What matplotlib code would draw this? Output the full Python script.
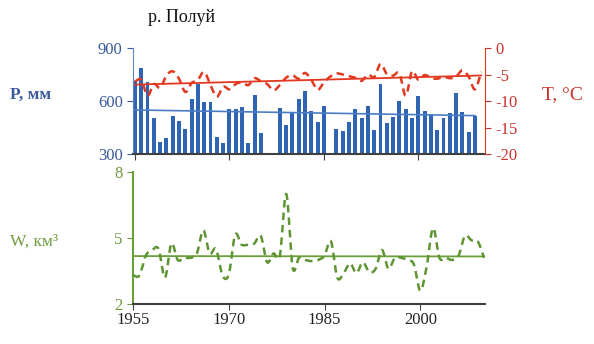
import numpy as np
import matplotlib
matplotlib.use("Agg")
from matplotlib import pyplot as plt

plt.rcParams['font.family'] = ['Liberation Serif', 'DejaVu Serif']

years = np.arange(1955, 2011)

# annual precipitation, mm (no data for 1976, 1977, 1986, 2010)
precip = [715, 785, 709, 505, 366, 389, 517, 487, 440, 610,
          694, 596, 596, 394, 360, 553, 557, 568, 360, 636,
          417, np.nan, np.nan, 562, 464, 530, 611, 657, 543, 479,
          573, np.nan, 440, 430, 483, 555, 506, 570, 436, 694,
          477, 511, 602, 555, 506, 628, 545, 526, 436, 502,
          534, 643, 536, 423, 517, np.nan]

# mean annual air temperature, deg C
temp = [-6.3, -6.0, -9.0, -6.8, -7.5, -5.2, -4.4, -5.8, -8.3, -6.6,
        -6.0, -4.5, -7.0, -9.2, -7.3, -7.8, -6.8, -6.5, -7.0, -5.7,
        -6.3, -6.8, -8.0, -7.0, -5.6, -5.1, -5.8, -4.7, -6.0, -7.9,
        -6.5, -5.4, -4.8, -5.0, -5.3, -5.6, -6.2, -5.0, -5.5, -3.0,
        -4.9, -5.2, -4.8, -9.0, -4.4, -6.0, -5.1, -5.6, -5.8, -5.4,
        -5.7, -5.4, -4.2, -5.4, -7.8, -4.5]

# annual runoff volume, km3
runoff = [3.3, 3.3, 4.2, 4.45, 4.5, 3.2, 4.75, 4.0, 4.1, 4.1,
          4.3, 5.35, 4.3, 4.5, 3.3, 3.35, 5.15, 4.7, 4.7, 4.75,
          5.1, 3.9, 4.3, 4.2, 7.0, 3.65, 4.1, 4.0, 3.95, 4.0,
          4.2, 4.85, 3.2, 3.4, 3.85, 3.4, 3.9, 3.45, 3.6, 4.45,
          3.6, 4.1, 4.1, 4.0, 3.8, 2.6, 3.7, 5.45, 4.1, 4.1,
          4.0, 4.2, 5.1, 4.9, 4.85, 4.1]

x_ticks = [1955, 1970, 1985, 2000]

BLUE = '#2f64b2'
BLUE_TXT = '#3a5a9c'
RED = '#e2381f'
RED_TXT = '#c8342b'
GREEN = '#6aa03c'
GREEN_DASH = '#5f9432'
GREEN_TXT = '#6f9a3e'
AXIS = '#404040'


def smooth_line(x, y, steps=16):
    # Catmull-Rom curve through every yearly value (spreadsheet-style smoothed line)
    x = np.asarray(x, float)
    y = np.asarray(y, float)
    px = np.concatenate([[2 * x[0] - x[1]], x, [2 * x[-1] - x[-2]]])
    py = np.concatenate([[2 * y[0] - y[1]], y, [2 * y[-1] - y[-2]]])
    t = np.linspace(0, 1, steps, endpoint=False)[:, None]
    out = []
    for i in range(1, len(px) - 2):
        p0, p1, p2, p3 = [np.array([px[j], py[j]]) for j in (i - 1, i, i + 1, i + 2)]
        seg = 0.5 * ((2 * p1) + (-p0 + p2) * t + (2 * p0 - 5 * p1 + 4 * p2 - p3) * t ** 2
                     + (-p0 + 3 * p1 - 3 * p2 + p3) * t ** 3)
        out.append(seg)
    out.append(np.array([[x[-1], y[-1]]]))
    out = np.vstack(out)
    return out[:, 0], out[:, 1]


def trend(x, y):
    x = np.asarray(x, float)
    y = np.asarray(y, float)
    ok = ~np.isnan(y)
    k, b = np.polyfit(x[ok], y[ok], 1)
    xs = np.array([x[ok][0], x[ok][-1]])
    return xs, k * xs + b


fig = plt.figure(figsize=(5.94, 3.44), dpi=100)
ax_p = fig.add_axes([0.224, 0.5523, 0.5926, 0.3081])
ax_t = ax_p.twinx()
ax_w = fig.add_axes([0.224, 0.1163, 0.5926, 0.3837])

# precipitation bars
p = np.array(precip, float)
ax_p.bar(years, p - 300, bottom=300, width=0.62, color=BLUE, zorder=2)
tx, ty = trend(years, p)
ax_p.plot(tx, ty, color='#4a7cc4', lw=1.2, zorder=3)
ax_p.set_ylim(300, 900)
ax_p.set_yticks([300, 600, 900])
ax_p.set_xlim(1954.7, 2010.6)
ax_p.set_xticks(x_ticks)
ax_p.tick_params(axis='x', labelbottom=False, direction='out', length=4, color=AXIS)
ax_p.tick_params(axis='y', colors=BLUE_TXT, labelsize=12, direction='out', length=4)
ax_p.spines['left'].set_color('#5b84c4')
ax_p.spines['bottom'].set_color(AXIS)
ax_p.spines['bottom'].set_linewidth(1.5)
for s in ('top', 'right'):
    ax_p.spines[s].set_visible(False)

# temperature on the right axis
sx, sy = smooth_line(years, temp)
ax_t.plot(sx, sy, color=RED, lw=1.8, ls=(0, (3, 2)), zorder=4)
tx, ty = trend(years, temp)
ax_t.plot(tx, ty, color=RED, lw=1.3, zorder=4)
ax_t.set_ylim(-20, 0)
ax_t.set_yticks([-20, -15, -10, -5, 0])
ax_t.set_yticklabels(['-20', '-15', '-10', '-5', '0'])
ax_t.tick_params(axis='y', colors=RED_TXT, labelsize=12, direction='out', length=4)
ax_t.spines['right'].set_color(RED)
for s in ('top', 'left', 'bottom'):
    ax_t.spines[s].set_visible(False)
ax_p.set_zorder(1)
ax_t.set_zorder(2)

# runoff
sx, sy = smooth_line(years, runoff)
ax_w.plot(sx, sy, color=GREEN_DASH, lw=1.8, ls=(0, (3, 2)), zorder=3)
tx, ty = trend(years, runoff)
ax_w.plot(tx, ty, color=GREEN, lw=1.3, zorder=2)
ax_w.set_ylim(2, 8)
ax_w.set_yticks([2, 5, 8])
ax_w.set_xlim(1955, 2010.15)
ax_w.set_xticks(x_ticks)
ax_w.tick_params(axis='y', colors=GREEN_TXT, labelsize=12, direction='out', length=4)
ax_w.tick_params(axis='x', colors=AXIS, labelcolor='#222222', labelsize=12,
                 direction='out', length=4, pad=2)
ax_w.spines['left'].set_color(GREEN)
ax_w.spines['left'].set_linewidth(1.5)
ax_w.spines['bottom'].set_color(AXIS)
ax_w.spines['bottom'].set_linewidth(1.5)
for s in ('top', 'right'):
    ax_w.spines[s].set_visible(False)

fig.text(0.25, 0.948, 'р. Полуй', fontsize=13, color='#111111', va='center')
fig.text(0.016, 0.724, 'P, мм', fontsize=12.5, fontweight='bold', color=BLUE_TXT, va='center')
fig.text(0.016, 0.297, 'W, км³', fontsize=12.5, color=GREEN_TXT, va='center')
fig.text(0.913, 0.724, 'T, °C', fontsize=14, color=RED_TXT, va='center')

fig.savefig('out.png', dpi=100, facecolor='white')
